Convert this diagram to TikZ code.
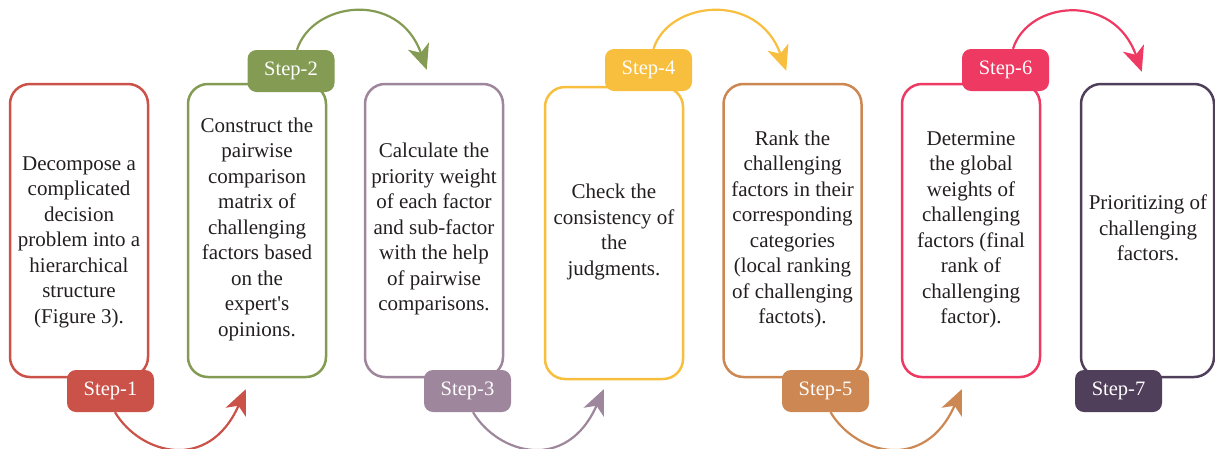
\documentclass[tikz,border=0pt]{standalone}
\usepackage{fontspec}
\setmainfont{Liberation Serif}
\usetikzlibrary{arrows.meta}

\definecolor{cOne}{HTML}{CB5249}
\definecolor{cTwo}{HTML}{849B53}
\definecolor{cThree}{HTML}{9E869C}
\definecolor{cFour}{HTML}{F7BF3D}
\definecolor{cFive}{HTML}{CD8752}
\definecolor{cSix}{HTML}{EE3962}
\definecolor{cSeven}{HTML}{503F5B}
\definecolor{ink}{HTML}{231F20}

\tikzset{
  stepbox/.style={draw, line width=2.5pt, rounded corners=20pt,
    minimum width=138pt, minimum height=293pt, inner sep=0pt},
  steptext/.style={align=center, text=ink, inner sep=0pt,
    font=\fontsize{21}{25.5}\selectfont},
  steptag/.style={fill, rounded corners=9pt, minimum width=87pt,
    minimum height=42pt, inner sep=0pt, text=white,
    font=\fontsize{20.5}{24}\selectfont},
  flow/.style={line width=2.2pt,
    -{Stealth[length=25pt, width=22pt, inset=7pt]}}
}

\begin{document}
\begin{tikzpicture}[x=1pt, y=-1pt]
\useasboundingbox (0,0) rectangle (1215,448);
\clip (0,0) rectangle (1215,448);

% step boxes
\node[stepbox, draw=cOne]   (b1) at (79,230.5)   {};
\node[stepbox, draw=cTwo]   (b2) at (257,230.5)  {};
\node[stepbox, draw=cThree] (b3) at (434,230.5)  {};
\node[stepbox, draw=cFour, minimum height=292pt] (b4) at (614,233) {};
\node[stepbox, draw=cFive]  (b5) at (792.5,230.5) {};
\node[stepbox, draw=cSix]   (b6) at (971,230.5)  {};
\node[stepbox, draw=cSeven, minimum width=133pt] (b7) at (1147.5,230.5) {};

% step descriptions
\node[steptext] (t1) at (79,242) {Decompose a\\complicated\\decision\\problem into a\\hierarchical\\structure\\(Figure 3).};
\node[steptext] (t2) at (257,229) {Construct the\\pairwise\\comparison\\matrix of\\challenging\\factors based\\on the\\expert\textquotesingle s\\opinions.};
\node[steptext] (t3) at (434,229) {Calculate the\\priority weight\\of each factor\\and sub-factor\\with the help\\of pairwise\\comparisons.};
\node[steptext] (t4) at (614,232) {Check the\\consistency of\\the\\judgments.};
\node[steptext] (t5) at (792.5,229.5) {Rank the\\challenging\\factors in their\\corresponding\\categories\\(local ranking\\of challenging\\factots).};
\node[steptext] (t6) at (971,230) {Determine\\the global\\weights of\\challenging\\factors (final\\rank of\\challenging\\factor).};
\node[steptext] (t7) at (1148,228) {Prioritizing of\\challenging\\factors.};

% step tags
\node[steptag, fill=cOne]   (s1) at (110.5,391) {Step-1};
\node[steptag, fill=cTwo]   (s2) at (291,71)    {Step-2};
\node[steptag, fill=cThree] (s3) at (467.5,391) {Step-3};
\node[steptag, fill=cFour]  (s4) at (648.5,70)  {Step-4};
\node[steptag, fill=cFive]  (s5) at (825.5,391) {Step-5};
\node[steptag, fill=cSix]   (s6) at (1005.5,70) {Step-6};
\node[steptag, fill=cSeven] (s7) at (1118.5,391) {Step-7};

% arcs below: from a tag down and up to the next box
\draw[flow, cOne]   ([xshift=4.5pt]s1.south) .. controls +(25,42) and +(-37,84) .. ([shift={(59pt,-11pt)}]b2.south west);
\draw[flow, cThree] ([xshift=5.5pt]s3.south) .. controls +(25,42) and +(-37,84) .. ([shift={(60pt,-9pt)}]b4.south west);
\draw[flow, cFive]  ([xshift=5pt]s5.south)   .. controls +(25,42) and +(-37,84) .. ([shift={(61pt,-11pt)}]b6.south west);

% arcs above: from a tag up and over to the next box
\draw[flow, cTwo]  ([xshift=6pt]s2.north)   .. controls +(15,-48) and +(-28,-80) .. ([shift={(63pt,13pt)}]b3.north west);
\draw[flow, cFour] ([xshift=5pt]s4.north)   .. controls +(15,-48) and +(-28,-80) .. ([shift={(64pt,12pt)}]b5.north west);
\draw[flow, cSix]  ([xshift=7.5pt]s6.north) .. controls +(15,-48) and +(-28,-80) .. ([shift={(62pt,11pt)}]b7.north west);
\end{tikzpicture}
\end{document}
